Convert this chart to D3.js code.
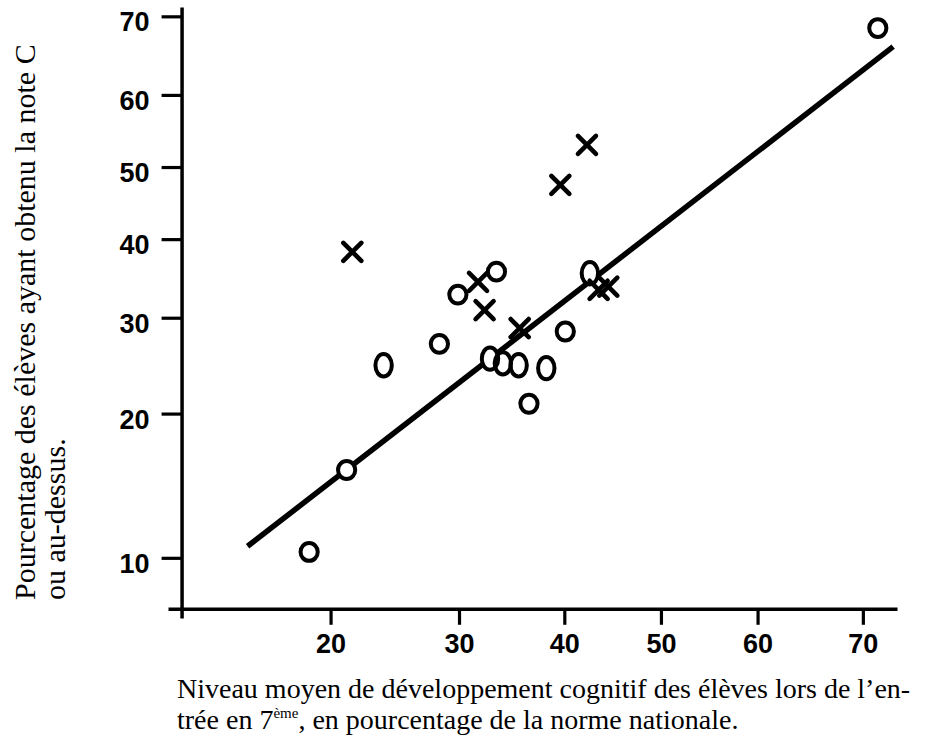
<!DOCTYPE html>
<html lang="fr">
<head>
<meta charset="utf-8">
<title>Niveau cognitif et notes C</title>
<style>
    body {
        margin: 0;
        background: #fff;
    }
    .axis path, .axis line {
        stroke: #000;
    }
    .axis .tick text {
        font-family: "Liberation Sans", Arial, Helvetica, sans-serif;
        font-size: 27px;
        font-weight: bold;
        fill: #000;
    }
    .title {
        font-family: "Liberation Serif", "Times New Roman", serif;
        font-size: 28px;
        fill: #000;
    }
    .ytitle {
        font-size: 30px;
    }
</style>
</head>
<body>

<script src="https://cdnjs.cloudflare.com/ajax/libs/d3/7.8.5/d3.min.js"></script>

<script>

    // values in percent (both axes are on a logit scale)
    var circleX = [33.4, 29.9, 28.3, 23.8, 32.8, 34.0, 35.5, 38.2, 36.5, 40.1, 42.6, 21.1, 18.6, 71.3];
    var circleY = [35.7, 32.8, 27.0, 24.7, 25.4, 24.9, 24.7, 24.4, 20.9, 28.4, 35.5, 15.4, 10.3, 68.6];
    var circleGlyph = ["o", "o", "o", "O", "O", "O", "O", "O", "o", "o", "O", "o", "o", "o"];

    var crossX = [21.5, 31.7, 32.3, 35.6, 42.3, 39.6, 43.5, 44.5];
    var crossY = [38.3, 34.4, 30.9, 28.8, 53.1, 47.5, 33.4, 33.8];

    // regression line end points
    var fitX = [15.0, 72.6];
    var fitY = [10.6, 66.3];

    var xTicks = [20, 30, 40, 50, 60, 70];
    var yTicks = [10, 20, 30, 40, 50, 60, 70];

    // extent of the drawn axis lines, and where they cross
    var xLimits = [11.22, 72.92];
    var yLimits = [7.34, 71.09];
    var xAxisAt = 7.7,   // y value of the x axis
        yAxisAt = 11.8;  // x value of the y axis

    var yTitle = ["Pourcentage des élèves ayant obtenu la note C", "ou au-dessus."];

    function logit(p) { return Math.log(p / (100 - p)); }

    var margin = { top: 7, right: 29, bottom: 119, left: 168 },
        width = 926 - margin.left - margin.right,
        height = 737 - margin.top - margin.bottom;

    var x = d3.scaleLinear()
        .domain(xLimits.map(logit))
        .range([0, width]);

    var y = d3.scaleLinear()
        .domain(yLimits.map(logit))
        .range([height, 0]);

    var root = d3.select("body").append("svg")
        .attr("width", 926)
        .attr("height", 737);

    var svg = root.append("g")
        .attr("transform", "translate(" + margin.left + "," + margin.top + ")");

    // x axis
    var xAxis = d3.axisBottom(x)
        .tickValues(xTicks.map(logit))
        .tickFormat(function (d, i) { return xTicks[i]; })
        .tickSizeInner(16)
        .tickSizeOuter(0)
        .tickPadding(9);

    var gx = svg.append("g")
        .attr("class", "x axis")
        .attr("transform", "translate(0," + y(logit(xAxisAt)) + ")")
        .call(xAxis);

    // y axis
    var yAxis = d3.axisLeft(y)
        .tickValues(yTicks.map(logit))
        .tickFormat(function (d, i) { return yTicks[i]; })
        .tickSizeInner(20)
        .tickSizeOuter(0)
        .tickPadding(12);

    var gy = svg.append("g")
        .attr("class", "y axis")
        .attr("transform", "translate(" + x(logit(yAxisAt)) + ",0)")
        .call(yAxis);

    root.selectAll(".axis .domain").attr("stroke-width", 3.5);
    root.selectAll(".axis .tick line").attr("stroke-width", 3.2);
    gy.selectAll(".tick text").attr("dy", "0.54em");
    root.selectAll(".axis").attr("font-family", null).attr("font-size", null);

    // regression line
    var fit = fitX.map(function (v, i) { return { x: v, y: fitY[i] }; });
    var line = d3.line()
        .x(function (d) { return x(logit(d.x)); })
        .y(function (d) { return y(logit(d.y)); });

    svg.append("path")
        .datum(fit)
        .attr("d", line)
        .attr("fill", "none")
        .attr("stroke", "#000")
        .attr("stroke-width", 5.5);

    // circles: white fill first (hides the line), then the outlines
    var circles = circleX.map(function (v, i) { return { x: v, y: circleY[i], g: circleGlyph[i] }; });

    function placeEllipse(sel) {
        sel.attr("cx", function (d) { return x(logit(d.x)); })
            .attr("cy", function (d) { return y(logit(d.y)); })
            .attr("rx", function (d) { return d.g === "O" ? 8.2 : 8.6; })
            .attr("ry", function (d) { return d.g === "O" ? 11.2 : 8.9; });
    }

    svg.append("g").selectAll("ellipse")
        .data(circles)
      .enter().append("ellipse")
        .call(placeEllipse)
        .attr("fill", "#fff");

    svg.append("g").selectAll("ellipse")
        .data(circles)
      .enter().append("ellipse")
        .call(placeEllipse)
        .attr("fill", "none")
        .attr("stroke", "#000")
        .attr("stroke-width", 4);

    // crosses
    var crosses = crossX.map(function (v, i) { return { x: v, y: crossY[i] }; });

    svg.append("g").selectAll("path")
        .data(crosses)
      .enter().append("path")
        .attr("transform", function (d) {
            return "translate(" + x(logit(d.x)) + "," + y(logit(d.y)) + ")";
        })
        .attr("d", "M-9,-9L9,9M-9,9L9,-9")
        .attr("fill", "none")
        .attr("stroke", "#000")
        .attr("stroke-width", 4.6)
        .attr("stroke-linecap", "round");

    // axis titles
    root.selectAll(".ytitle")
        .data(yTitle)
      .enter().append("text")
        .attr("class", "title ytitle")
        .attr("transform", "rotate(-90)")
        .attr("x", -600)
        .attr("y", function (d, i) { return 35 + i * 30; })
        .text(function (d) { return d; });

    root.append("text")
        .attr("class", "title")
        .attr("x", 177)
        .attr("y", 698)
        .text("Niveau moyen de développement cognitif des élèves lors de l’en-");

    var t2 = root.append("text")
        .attr("class", "title")
        .attr("x", 177)
        .attr("y", 729);
    t2.append("tspan").text("trée en 7");
    t2.append("tspan")
        .attr("font-size", "15px")
        .attr("dy", -11)
        .text("ème");
    t2.append("tspan")
        .attr("dy", 11)
        .text(", en pourcentage de la norme nationale.");

</script>

</body>
</html>
